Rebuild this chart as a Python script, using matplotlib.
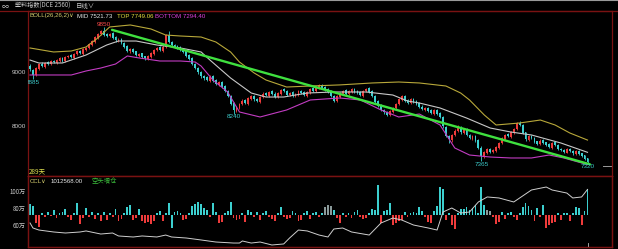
import matplotlib
matplotlib.use('Agg')
import matplotlib.pyplot as plt
import numpy as np

# ---------------- data ----------------
closes = [9060, 8950, 9080, 9150, 9120, 9180, 9160, 9210, 9190, 9230,
          9260, 9220, 9290, 9310, 9280, 9350, 9390, 9360, 9430, 9460,
          9520, 9580, 9650, 9720, 9760, 9700, 9680, 9720, 9640, 9600,
          9610, 9540, 9480, 9400, 9430, 9380, 9320, 9350, 9290, 9260,
          9300, 9360, 9420, 9460, 9410, 9480, 9700, 9560, 9500, 9480,
          9460, 9420, 9380, 9310, 9250, 9150, 9080, 9000, 8930, 8900,
          8860, 8920, 8850, 8780, 8820, 8740, 8650, 8560, 8420, 8300,
          8350, 8420, 8480, 8430, 8520, 8560, 8500, 8470, 8550, 8610,
          8580, 8640, 8600, 8550, 8620, 8680, 8650, 8590, 8620, 8570,
          8600, 8650, 8620, 8580, 8640, 8700, 8660, 8730, 8760, 8720,
          8680, 8640, 8560, 8480, 8560, 8620, 8660, 8610, 8650, 8690,
          8640, 8620, 8580, 8660, 8700, 8640, 8560, 8460, 8380, 8300,
          8260, 8220, 8280, 8350, 8420, 8500, 8560, 8480, 8440, 8500,
          8460, 8420, 8360, 8320, 8340, 8290, 8250, 8300, 8240, 8180,
          8000, 7820, 7760, 7850, 7920, 7980, 7890, 7950, 7840, 7780,
          7820, 7740, 7600, 7450, 7520, 7580, 7530, 7560, 7620, 7700,
          7780, 7850, 7820, 7900, 7960, 8060, 8020, 7880, 7760, 7820,
          7780, 7720, 7680, 7740, 7700, 7660, 7620, 7700, 7650, 7580,
          7560, 7520, 7580, 7540, 7500, 7540, 7490, 7460, 7400, 7345]
opens = [9120, 9050, 8960, 9070, 9160, 9110, 9190, 9150, 9220, 9180,
         9220, 9270, 9210, 9280, 9320, 9270, 9340, 9400, 9350, 9420,
         9450, 9510, 9570, 9640, 9710, 9770, 9710, 9670, 9730, 9650,
         9590, 9620, 9550, 9490, 9390, 9440, 9390, 9310, 9360, 9300,
         9250, 9290, 9350, 9410, 9470, 9400, 9480, 9700, 9570, 9510,
         9490, 9470, 9430, 9390, 9320, 9260, 9160, 9090, 9010, 8940,
         8910, 8850, 8930, 8860, 8770, 8830, 8750, 8660, 8570, 8430,
         8290, 8340, 8410, 8490, 8420, 8510, 8570, 8510, 8460, 8540,
         8620, 8570, 8650, 8610, 8540, 8610, 8690, 8660, 8580, 8630,
         8560, 8590, 8660, 8630, 8570, 8630, 8710, 8650, 8720, 8770,
         8730, 8690, 8650, 8570, 8470, 8550, 8610, 8670, 8600, 8640,
         8700, 8650, 8630, 8570, 8650, 8710, 8650, 8570, 8470, 8390,
         8310, 8270, 8210, 8270, 8340, 8410, 8490, 8570, 8490, 8430,
         8510, 8470, 8430, 8370, 8310, 8350, 8300, 8240, 8310, 8250,
         8170, 7990, 7830, 7750, 7840, 7910, 7990, 7880, 7960, 7850,
         7770, 7830, 7750, 7610, 7440, 7510, 7590, 7520, 7550, 7610,
         7690, 7770, 7860, 7810, 7890, 7950, 8070, 8030, 7890, 7750,
         7830, 7790, 7730, 7670, 7750, 7710, 7670, 7610, 7710, 7660,
         7590, 7570, 7510, 7590, 7550, 7490, 7550, 7500, 7470, 7410]
highs = [9150, 9070, 9100, 9180, 9190, 9200, 9210, 9240, 9240, 9250,
         9280, 9290, 9310, 9330, 9340, 9370, 9410, 9420, 9450, 9480,
         9540, 9600, 9670, 9740, 9780, 9850, 9730, 9740, 9750, 9670,
         9640, 9640, 9570, 9500, 9450, 9460, 9400, 9370, 9370, 9310,
         9320, 9380, 9440, 9480, 9490, 9500, 9720, 9760, 9590, 9530,
         9510, 9490, 9450, 9400, 9340, 9280, 9180, 9110, 9030, 8960,
         8930, 8950, 8950, 8880, 8850, 8850, 8770, 8680, 8590, 8450,
         8380, 8440, 8500, 8510, 8540, 8580, 8590, 8530, 8570, 8630,
         8640, 8660, 8670, 8630, 8640, 8700, 8710, 8680, 8640, 8650,
         8620, 8670, 8680, 8650, 8660, 8720, 8730, 8750, 8790, 8790,
         8750, 8710, 8670, 8590, 8580, 8640, 8680, 8690, 8670, 8710,
         8720, 8670, 8650, 8680, 8720, 8730, 8670, 8580, 8490, 8410,
         8330, 8290, 8300, 8370, 8440, 8520, 8580, 8590, 8510, 8520,
         8530, 8490, 8450, 8390, 8370, 8370, 8320, 8320, 8330, 8270,
         8190, 8010, 7850, 7870, 7950, 8020, 8010, 7970, 7980, 7870,
         7840, 7850, 7770, 7630, 7540, 7600, 7610, 7580, 7640, 7720,
         7800, 7870, 7880, 7920, 7980, 8080, 8100, 8050, 7900, 7840,
         7850, 7800, 7740, 7760, 7770, 7720, 7690, 7720, 7720, 7670,
         7610, 7590, 7600, 7600, 7560, 7560, 7560, 7510, 7480, 7420]
lows = [9030, 8885, 8940, 9050, 9100, 9090, 9140, 9130, 9170, 9160,
        9200, 9200, 9190, 9260, 9260, 9250, 9320, 9340, 9330, 9400,
        9430, 9490, 9550, 9620, 9690, 9680, 9650, 9650, 9620, 9570,
        9560, 9520, 9460, 9380, 9370, 9360, 9300, 9290, 9270, 9230,
        9230, 9270, 9330, 9390, 9390, 9380, 9460, 9540, 9480, 9460,
        9440, 9400, 9360, 9290, 9230, 9130, 9060, 8980, 8900, 8870,
        8840, 8830, 8830, 8760, 8750, 8720, 8630, 8540, 8400, 8240,
        8270, 8320, 8390, 8410, 8400, 8490, 8480, 8450, 8440, 8520,
        8560, 8550, 8580, 8530, 8520, 8590, 8630, 8570, 8560, 8550,
        8540, 8570, 8600, 8560, 8550, 8610, 8640, 8630, 8700, 8700,
        8660, 8620, 8540, 8450, 8450, 8530, 8590, 8590, 8580, 8620,
        8620, 8600, 8560, 8550, 8630, 8620, 8540, 8440, 8360, 8280,
        8240, 8190, 8190, 8250, 8320, 8390, 8470, 8460, 8420, 8410,
        8440, 8400, 8340, 8300, 8290, 8270, 8230, 8220, 8220, 8160,
        7980, 7800, 7700, 7720, 7820, 7890, 7870, 7860, 7820, 7760,
        7750, 7720, 7580, 7365, 7420, 7490, 7510, 7500, 7530, 7590,
        7670, 7750, 7800, 7790, 7870, 7930, 8000, 7860, 7740, 7730,
        7760, 7700, 7660, 7650, 7680, 7640, 7600, 7590, 7630, 7560,
        7540, 7500, 7500, 7520, 7480, 7470, 7470, 7440, 7380, 7320]

# Bollinger bands (bar index, price)
up_idx = [0, 8, 14, 19, 23, 27, 34, 41, 46, 51, 58, 63, 68, 71, 76, 80, 87, 95,
          105, 116, 125, 132, 141, 146, 149, 154, 158, 166, 173, 178, 183, 189]
up_val = [9454, 9380, 9398, 9472, 9639, 9843, 9880, 9806, 9694, 9676, 9657, 9565,
          9380, 9194, 8991, 8861, 8731, 8750, 8770, 8806, 8824, 8806, 8750, 8620,
          8491, 8213, 8028, 8065, 8120, 8028, 7880, 7749]
mid_idx = [0, 3, 11, 19, 26, 30, 36, 43, 51, 58, 61, 68, 75, 80, 86, 94, 103, 114,
           123, 128, 132, 139, 148, 156, 163, 170, 180, 189]
mid_val = [9231, 9176, 9176, 9324, 9509, 9583, 9583, 9509, 9454, 9380, 9231, 8898,
           8620, 8546, 8546, 8620, 8639, 8639, 8583, 8472, 8435, 8343, 8157, 7972,
           7898, 7843, 7694, 7522]
low_idx = [0, 14, 19, 24, 29, 33, 37, 44, 51, 56, 58, 62, 67, 71, 78, 87, 95, 105,
           112, 119, 125, 132, 139, 144, 149, 156, 163, 170, 176, 181, 189]
low_val = [8954, 8954, 9028, 9083, 9157, 9306, 9269, 9213, 9213, 9194, 9120, 8861,
           8639, 8269, 8176, 8306, 8491, 8528, 8491, 8306, 8176, 8231, 8028, 7602,
           7472, 7435, 7417, 7417, 7472, 7417, 7294]

# hand-drawn trend line (bar index, price)
trend_idx = [27.8, 189.8]
trend_val = [9790, 7300]

# extreme labels (bar index, price, text)
ext_idx = [25, 1, 69, 153, 189]
ext_val = [9850, 8885, 8240, 7365, 7320]
ext_txt = ['9850', '8885', '8240', '7365', '7320']

# open interest (万手) line
oi_idx = [0, 1, 3, 8, 12, 17, 19, 24, 28, 30, 35, 38, 43, 46, 48, 53, 58, 63, 69, 71,
          72, 75, 78, 82, 86, 88, 91, 94, 98, 101, 103, 106, 109, 115, 119, 123, 126,
          130, 135, 138, 140, 143, 146, 149, 152, 155, 159, 164, 166, 170, 175, 177,
          182, 184, 187, 189]
oi_val = [61.8, 55.9, 53.5, 51.2, 50, 51.2, 52.4, 48.8, 50, 46.5, 45.3, 46.5, 45.3,
          47.6, 45.3, 44.1, 41.8, 39.4, 38.2, 38.2, 40.6, 38.2, 39.4, 35.9, 37.1, 44.1,
          53.5, 52.4, 47.6, 45.3, 54.7, 55.9, 51.2, 47.6, 61.8, 67.6, 65.3, 59.4, 55.9,
          53.5, 74.7, 79.4, 73.5, 74.7, 86.5, 92.4, 91.2, 86.5, 91.2, 100.6, 104.1,
          100.6, 97, 91.2, 92.4, 101.26]

# daily open-interest change (千手)
oi_change = [11, 9, -8, -12, 2, -2, 3, -1, 5, -3,
             2, 3, 6, -2, -5, 2, 12, -9, -3, 7,
             -2, 3, -4, 2, -6, 3, -5, 2, -2, 6,
             -6, -4, 2, 8, 10, -5, -3, 6, -6, -8,
             -7, -9, -6, 2, 4, -6, 2, 12, -13, 3,
             4, 2, -5, -4, 2, 9, 11, 13, 11, 7,
             5, -2, 12, 3, -8, -7, 2, 4, 13, -3,
             -5, -4, 2, -7, 5, 3, -2, 3, -5, 2,
             4, -2, -4, -6, 2, 8, -2, -4, -3, 4,
             2, -6, -5, 2, 4, -4, 2, 3, -2, 2,
             8, 10, 9, 5, -3, -8, 2, -2, 2, -3,
             3, 5, -2, -4, -3, 2, 6, 5, 30, -8,
             4, 5, 12, -10, -8, -6, -5, 3, -2, 2,
             3, 2, 8, 4, -2, -7, -8, 4, 9, 28,
             26, -5, 2, -10, -14, 2, 6, 6, 8, 5,
             7, 10, 2, 28, 10, 5, 4, -2, -9, -7,
             3, -4, 2, 3, -2, -5, 2, 8, 12, 9,
             5, -6, 7, -2, 10, -13, -10, -8, -7, 2,
             -5, 2, 2, -6, 2, 8, 7, -10, 4, 26]
gray_bars = [100, 101, 102, 155, 156]
cyan_down_bars = [48]

# ---------------- style ----------------
BG = '#000000'
FRAME = '#7a1212'
RED = '#ee3b3b'
CYAN = '#3ccfcf'
UPC = '#b8a83a'
MIDC = '#c8c8c8'
LOWC = '#c23cc2'
GREEN = '#3fe03f'
TXT = '#c8c8c8'
CJK = ['Noto Sans CJK SC', 'DejaVu Sans']
NUMF = ['Liberation Sans', 'DejaVu Sans']

W, H = 618, 249
fig = plt.figure(figsize=(W / 100, H / 100), dpi=100, facecolor=BG)

def fx(px):
    return px / W

def fy(py):
    return 1 - py / H

L, R = 28, 612
T1, B1 = 11.5, 176
T2, B2 = 176, 247

ax = fig.add_axes([fx(L), fy(B1), (R - L) / W, (B1 - T1) / H])
axb = fig.add_axes([fx(L), fy(B2), (R - L) / W, (B2 - T2) / H])
axo = axb.twinx()

XMIN, XMAX = -0.68, 197.3
PY0 = 9000 + (72.5 - 176) / 0.054
PY1 = 9000 + (72.5 - 11.5) / 0.054

for a in (ax, axb, axo):
    a.set_facecolor(BG)
    a.set_xlim(XMIN, XMAX)
    a.set_xticks([])
    for s in a.spines.values():
        s.set_color(FRAME)
        s.set_linewidth(0.9)
axo.patch.set_visible(False)

# ---------------- main price panel ----------------
o = np.array(opens, float)
c = np.array(closes, float)
h = np.array(highs, float)
lo = np.array(lows, float)
idx = np.arange(len(c))
cols = np.where(c >= o, RED, CYAN)
ax.vlines(idx, lo, h, colors=cols, lw=0.6, zorder=2)
body = np.maximum(np.abs(c - o), 10)
ax.bar(idx, body, bottom=np.minimum(o, c), width=0.62, color=cols, lw=0, zorder=3)

ax.plot(up_idx, up_val, color=UPC, lw=0.8, zorder=4)
ax.plot(mid_idx, mid_val, color=MIDC, lw=0.8, zorder=4)
ax.plot(low_idx, low_val, color=LOWC, lw=0.8, zorder=4)
ax.plot(trend_idx, trend_val, color=GREEN, lw=1.7, zorder=5, solid_capstyle='round')

ax.set_ylim(PY0, PY1)
ax.set_yticks([9000, 8000])
ax.set_yticklabels(['9000', '8000'], fontfamily=NUMF)
ax.tick_params(axis='y', length=0, pad=1.5, labelsize=4.6, labelcolor=TXT)

for i, (xi, v, t) in enumerate(zip(ext_idx, ext_val, ext_txt)):
    if i == 0:
        ax.text(xi, v, t, color='#ff4a4a', fontsize=4.6, ha='center', va='bottom',
                fontfamily=NUMF, zorder=6)
    elif i == 1:
        # partially hidden behind the left frame, as in the screen capture
        ax.text(xi - 2.6, v - 15, t, color='#3cc8c8', fontsize=4.6, ha='left', va='top',
                fontfamily=NUMF, zorder=6, clip_on=True)
    else:
        ax.text(xi, v - 15, t, color='#3cc8c8', fontsize=4.6, ha='center', va='top',
                fontfamily=NUMF, zorder=6, clip_on=True)

ax.text(0.002, 0.004, '289天', transform=ax.transAxes, color='#e0e050', fontsize=4.6,
        ha='left', va='bottom', fontfamily=CJK)
# small price marker at the right edge
ax.plot([0.985, 1.0], [0.06, 0.06], transform=ax.transAxes, color='#9a9a9a', lw=0.7)

# ---------------- lower CCL panel ----------------
ch = np.array(oi_change, float)
bcols = np.where(ch >= 0, CYAN, RED).astype(object)
for g in gray_bars:
    bcols[g] = '#8a9a9a'
for g in cyan_down_bars:
    bcols[g] = CYAN
axb.bar(np.arange(len(ch)), ch, width=0.62, color=list(bcols), lw=0)
axb.set_ylim(-32, 39)
axb.set_yticks([])

axo.plot(oi_idx, oi_val, color='#cfcfcf', lw=0.7)
axo.set_ylim(100 - 56.5 / 0.85, 100 + 14.5 / 0.85)
axo.yaxis.tick_left()
axo.set_yticks([100, 80, 60])
axo.set_yticklabels(['100万', '80万', '60万'], fontfamily=CJK)
axo.tick_params(axis='y', length=0, pad=1.5, labelsize=4.4, labelcolor=TXT)
# cursor tick at the bottom
axo.plot([189, 189], [0.0, 0.05], transform=axo.get_xaxis_transform(), color='#bbbbbb', lw=0.6)

# ---------------- header texts ----------------
fig.text(fx(2), fy(6), '∞', color=TXT, fontsize=5, va='center', ha='left', fontfamily=CJK)
fig.text(fx(15), fy(6), '塑料指数(DCE 2560)', color=TXT, fontsize=4.4, va='center',
         ha='left', fontfamily=CJK)
fig.text(fx(76), fy(6), '日线∨', color=TXT, fontsize=4.6, va='center', ha='left',
         fontfamily=CJK)
fig.text(fx(30), fy(16), 'BOLL(26,26,2)∨', color='#d8d070', fontsize=4.4, va='center',
         ha='left', fontfamily=NUMF)
fig.text(fx(77), fy(16), 'MID 7521.73', color='#e8e8e8', fontsize=4.4, va='center',
         ha='left', fontfamily=NUMF)
fig.text(fx(117), fy(16), 'TOP 7749.06', color='#e8e040', fontsize=4.4, va='center',
         ha='left', fontfamily=NUMF)
fig.text(fx(155), fy(16), 'BOTTOM 7294.40', color='#e040e0', fontsize=4.4, va='center',
         ha='left', fontfamily=NUMF)
fig.text(fx(30), fy(181.5), 'CCL∨', color='#d8d070', fontsize=4.4, va='center',
         ha='left', fontfamily=NUMF)
fig.text(fx(51), fy(181.5), '1012568.00', color='#e8e8e8', fontsize=4.4, va='center',
         ha='left', fontfamily=NUMF)
fig.text(fx(92), fy(181.5), '空头增仓', color='#3cc03c', fontsize=4.6, va='center',
         ha='left', fontfamily=CJK)

# top border lines
fig.add_artist(plt.Line2D([0, 1], [fy(11.5), fy(11.5)], color=FRAME, lw=0.9))
fig.add_artist(plt.Line2D([0, 1], [fy(0.5), fy(0.5)], color='#9a9a9a', lw=0.8))

fig.savefig('out.png', dpi=100, facecolor=BG)
